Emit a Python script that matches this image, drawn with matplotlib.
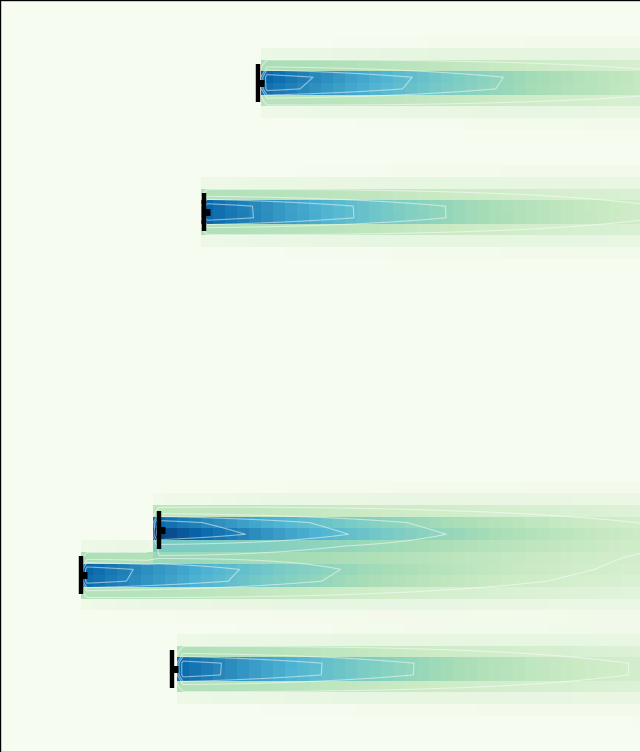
import numpy as np
import matplotlib
matplotlib.use("Agg")
import matplotlib.pyplot as plt

# plume sources (x, y in plot units, y grows downward) and their strength
source_x = [258, 204, 158.5, 81, 172]
source_y = [82.5, 212, 530, 575, 669]
source_strength = [1.0, 1.0, 1.05, 1.0, 1.0]

# plume spread / decay
decay_length = 310.0
sigma0 = 12.0
sigma_growth = 0.018

contour_levels = [0.22, 0.43, 0.57, 0.77]

# grid of cells
x_edges = 9 + 12.0 * np.arange(-1, 56)
y_edges = 1 + 11.72 * np.arange(0, 65)
xc = (x_edges[:-1] + x_edges[1:]) / 2
yc = (y_edges[:-1] + y_edges[1:]) / 2
X, Y = np.meshgrid(xc, yc)

Z = np.zeros_like(X)
for x0, y0, s in zip(source_x, source_y, source_strength):
    dx = X - x0
    sig = sigma0 + sigma_growth * np.clip(dx, 0, None)
    val = s * np.exp(-dx / decay_length) * np.exp(-(Y - y0) ** 2 / (2 * sig ** 2))
    Z += np.where(dx >= 0, val, 0.0)

fig = plt.figure(figsize=(6.4, 7.52), dpi=100)
ax = fig.add_axes([0, 0, 1, 1])

ax.pcolormesh(x_edges, y_edges, Z, cmap='GnBu', vmin=0, vmax=1,
              shading='flat', edgecolors='none', antialiased=False)
ax.contour(X, Y, Z, levels=contour_levels, colors='white',
           linewidths=0.8, alpha=0.5)

# source markers: tall bar with a short stub to the right
ax.plot(source_x, source_y, ls='none', marker='|', ms=27, mew=3.2, color='black')
ax.plot(source_x, source_y, ls='none', marker=1, ms=4.5, mew=5, color='black')

ax.set_xlim(0, 640)
ax.set_ylim(752, 0)
ax.set_xticks([])
ax.set_yticks([])
for sp in ax.spines.values():
    sp.set_linewidth(1.0)
ax.spines['right'].set_visible(False)

fig.savefig('out.png', dpi=100)
